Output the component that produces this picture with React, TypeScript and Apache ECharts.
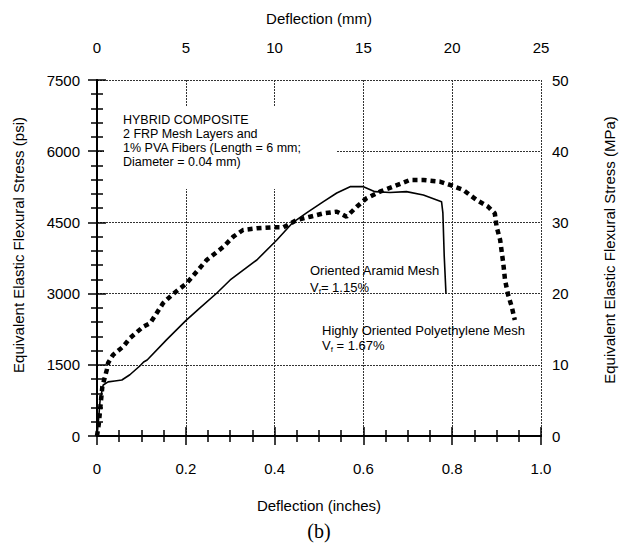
import React, { useEffect, useRef } from "react";
import * as echarts from "echarts";

const aramidX = [0, 0.004, 0.007, 0.014, 0.025, 0.04, 0.056, 0.074, 0.097, 0.105, 0.113, 0.157, 0.2, 0.232, 0.27, 0.3, 0.36, 0.405, 0.44, 0.472, 0.51, 0.54, 0.57, 0.6, 0.626, 0.66, 0.697, 0.735, 0.776, 0.779, 0.782, 0.786];
const aramidY = [0, 400, 760, 1075, 1140, 1160, 1180, 1290, 1480, 1560, 1600, 2030, 2430, 2700, 3013, 3287, 3708, 4130, 4488, 4699, 4937, 5120, 5253, 5253, 5148, 5130, 5148, 5078, 4937, 4700, 3800, 3000];

const polyX = [0, 0.004, 0.007, 0.012, 0.022, 0.025, 0.036, 0.059, 0.074, 0.104, 0.12, 0.149, 0.171, 0.202, 0.247, 0.285, 0.307, 0.329, 0.36, 0.397, 0.42, 0.45, 0.48, 0.51, 0.54, 0.562, 0.585, 0.607, 0.637, 0.667, 0.705, 0.735, 0.772, 0.795, 0.825, 0.855, 0.881, 0.896, 0.9, 0.908, 0.915, 0.919, 0.926, 0.934, 0.941];
const polyY = [0, 250, 548, 1040, 1390, 1538, 1707, 1883, 2060, 2303, 2380, 2800, 2990, 3217, 3708, 3988, 4200, 4340, 4376, 4397, 4397, 4550, 4620, 4690, 4727, 4620, 4830, 5008, 5148, 5253, 5394, 5394, 5360, 5290, 5183, 4972, 4830, 4690, 4410, 4130, 3638, 3287, 2970, 2725, 2444];

const inchTicks = [0, 0.2, 0.4, 0.6, 0.8, 1.0];
const mmTicks = [0, 5, 10, 15, 20, 25];
const psiTicks = [0, 1500, 3000, 4500, 6000, 7500];
const mpaTicks = [0, 10, 20, 30, 40, 50];

const FONT = "'Liberation Sans', Arial, Helvetica, sans-serif";

export default function App() {
  const ref = useRef<HTMLDivElement>(null);
  useEffect(() => {
    if (!ref.current) return;
    const chart = echarts.init(ref.current, null, { renderer: "svg" });
    const axisLine = { show: true, lineStyle: { color: "#000", width: 2 } };
    const axisTick = { show: true, inside: true, length: 9, lineStyle: { color: "#000", width: 1.5 } };
    const minorTick = (n: number) => ({ show: true, splitNumber: n, length: 6, lineStyle: { color: "#000", width: 1.5 } });
    const label = { color: "#000", fontSize: 15, fontFamily: FONT };
    const grid = { show: true, lineStyle: { color: "#333", width: 1, type: [2, 1] } };
    const aramid = aramidX.map((x, i) => [x, aramidY[i]]);
    const poly = polyX.map((x, i) => [x, polyY[i]]);
    const textStyle = (text: string, size: number) => ({ text, fill: "#000", fontSize: size, fontFamily: FONT });
    const plain = (v: number) => String(v);
    chart.setOption({
      animation: false,
      backgroundColor: "#fff",
      grid: { left: 97, right: 80, top: 80, bottom: 110 },
      xAxis: [
        {
          type: "value", position: "bottom", min: inchTicks[0], max: inchTicks[inchTicks.length - 1], interval: 0.2,
          axisLine, axisTick, minorTick: minorTick(4),
          splitLine: grid,
          axisLabel: { ...label, margin: 25, formatter: (v: number) => (v === 0 ? "0" : v.toFixed(1)) },
        },
        {
          type: "value", position: "top", min: mmTicks[0], max: mmTicks[mmTicks.length - 1], interval: 5,
          axisLine, axisTick, minorTick: minorTick(4),
          splitLine: { show: false },
          axisLabel: { ...label, margin: 25, formatter: plain },
        },
      ],
      yAxis: [
        {
          type: "value", position: "left", min: psiTicks[0], max: psiTicks[psiTicks.length - 1], interval: 1500,
          axisLine, axisTick, minorTick: minorTick(5),
          splitLine: grid,
          axisLabel: { ...label, margin: 17, formatter: plain },
        },
        {
          type: "value", position: "right", min: mpaTicks[0], max: mpaTicks[mpaTicks.length - 1], interval: 10,
          axisLine, axisTick, minorTick: minorTick(5),
          splitLine: { show: false },
          axisLabel: { ...label, margin: 11, formatter: plain },
        },
      ],
      series: [
        {
          name: "Oriented Aramid Mesh", type: "line", xAxisIndex: 0, yAxisIndex: 0, data: aramid,
          showSymbol: false, symbol: "none", z: 3,
          lineStyle: { color: "#000", width: 1.6 },
        },
        {
          name: "Highly Oriented Polyethylene Mesh", type: "line", xAxisIndex: 0, yAxisIndex: 0, data: poly,
          showSymbol: false, symbol: "none", z: 4,
          lineStyle: { color: "#000", width: 4.5, type: [5, 4], cap: "butt" },
        },
      ],
      graphic: [
        { type: "rect", z: 1, shape: { x: 104, y: 107, width: 233, height: 82 }, style: { fill: "#fff" } },
        { type: "text", z: 10, x: 123, y: 120, style: { ...textStyle("HYBRID COMPOSITE", 12.5), textVerticalAlign: "middle" } },
        { type: "text", z: 10, x: 123, y: 134, style: { ...textStyle("2 FRP Mesh Layers and", 12.5), textVerticalAlign: "middle" } },
        { type: "text", z: 10, x: 123, y: 148, style: { ...textStyle("1% PVA Fibers (Length = 6 mm;", 12.5), textVerticalAlign: "middle" } },
        { type: "text", z: 10, x: 123, y: 162, style: { ...textStyle("Diameter = 0.04 mm)", 12.5), textVerticalAlign: "middle" } },
        { type: "text", z: 10, x: 310, y: 270, style: { ...textStyle("Oriented Aramid Mesh", 13), textVerticalAlign: "middle" } },
        {
          type: "text", z: 10, x: 310, y: 279,
          style: {
            text: "{v|V}{s|f}{v|= 1.15%}", fill: "#000", fontFamily: FONT,
            rich: { v: { fontSize: 13, lineHeight: 16, fontFamily: FONT, fill: "#000" }, s: { fontSize: 8, verticalAlign: "bottom", fontFamily: FONT, fill: "#000" } },
          },
        },
        { type: "text", z: 10, x: 322, y: 330, style: { ...textStyle("Highly Oriented Polyethylene Mesh", 13), textVerticalAlign: "middle" } },
        {
          type: "text", z: 10, x: 322, y: 337,
          style: {
            text: "{v|V}{s|f}{v| = 1.67%}", fill: "#000", fontFamily: FONT,
            rich: { v: { fontSize: 13, lineHeight: 16, fontFamily: FONT, fill: "#000" }, s: { fontSize: 8, verticalAlign: "bottom", fontFamily: FONT, fill: "#000" } },
          },
        },
        { type: "text", z: 10, x: 319, y: 18, style: { ...textStyle("Deflection (mm)", 15), textAlign: "center", textVerticalAlign: "middle" } },
        { type: "text", z: 10, x: 319, y: 505, style: { ...textStyle("Deflection (inches)", 15), textAlign: "center", textVerticalAlign: "middle" } },
        { type: "text", z: 10, x: 319, y: 531, style: { text: "(b)", fill: "#000", fontSize: 20, fontFamily: "'Liberation Serif', 'Times New Roman', serif", textAlign: "center", textVerticalAlign: "middle" } },
        { type: "text", z: 10, x: 18, y: 245, rotation: Math.PI / 2, style: { ...textStyle("Equivalent Elastic Flexural Stress (psi)", 15), textAlign: "center", textVerticalAlign: "middle" } },
        { type: "text", z: 10, x: 609, y: 250, rotation: Math.PI / 2, style: { ...textStyle("Equivalent Elastic Flexural Stress (MPa)", 15), textAlign: "center", textVerticalAlign: "middle" } },
      ],
    });
    return () => chart.dispose();
  }, []);
  return <div ref={ref} style={{ position: "fixed", left: 0, top: 0, width: 621, height: 546, background: "#fff" }} />;
}
